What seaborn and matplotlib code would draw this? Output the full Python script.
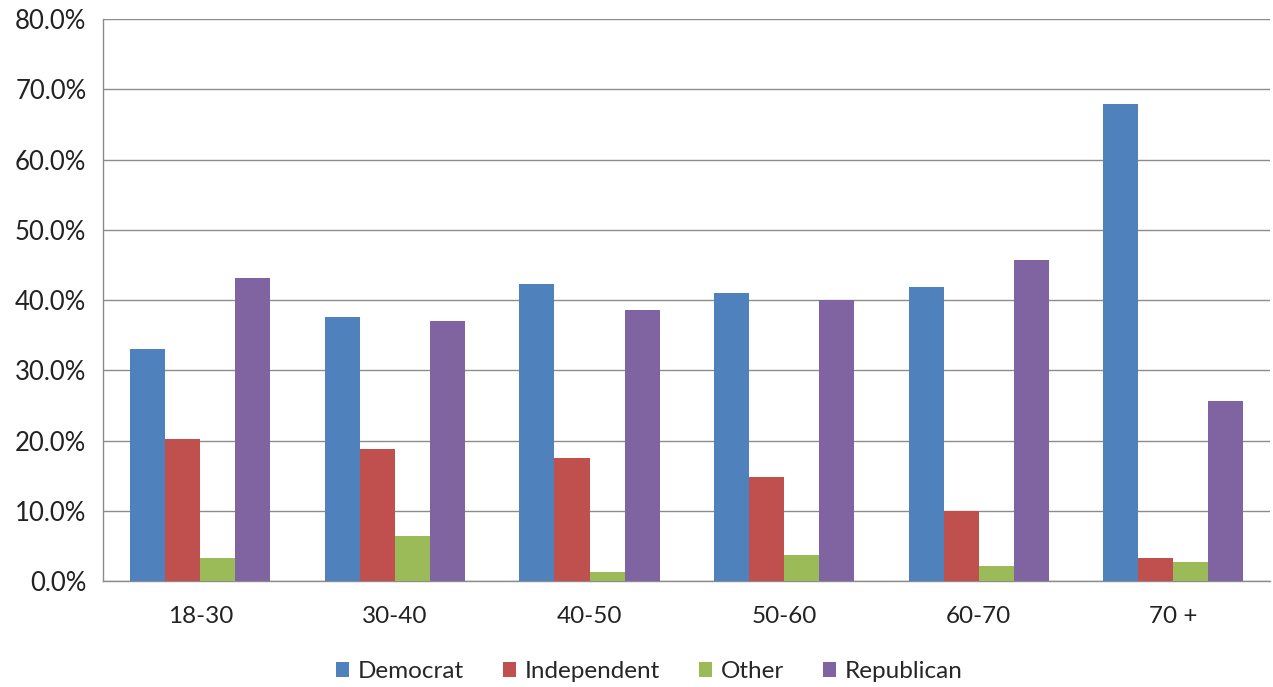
import matplotlib
matplotlib.use("Agg")
import matplotlib.pyplot as plt
from matplotlib.ticker import PercentFormatter, FixedLocator
import seaborn as sns
import pandas as pd

age_groups = ["18-30", "30-40", "40-50", "50-60", "60-70", "70 +"]
parties = ["Democrat", "Independent", "Other", "Republican"]
democrat = [33.0, 37.6, 42.3, 41.0, 41.9, 68.0]
independent = [20.2, 18.8, 17.5, 14.9, 10.0, 3.3]
other = [3.3, 6.4, 1.3, 3.8, 2.1, 2.7]
republican = [43.1, 37.0, 38.6, 40.0, 45.7, 25.6]
colors = ["#4F81BD", "#C0504D", "#9BBB59", "#8064A2"]

rows = []
for party, vals in zip(parties, [democrat, independent, other, republican]):
    for age, v in zip(age_groups, vals):
        rows.append({"age": age, "party": party, "share": v})
df = pd.DataFrame(rows)

sns.set_style("white")
plt.rcParams["font.family"] = ["Lato", "DejaVu Sans"]

fig = plt.figure(figsize=(12.73, 6.87), dpi=100)
ax = fig.add_axes([0.081, 0.154, 0.917, 0.818])

sns.barplot(data=df, x="age", y="share", hue="party", order=age_groups,
            hue_order=parties, palette=colors, width=0.72, gap=0,
            saturation=1, ax=ax, zorder=3, edgecolor="none")

ax.set_ylim(0, 80)
ax.set_xlim(-0.5, 5.5)
ax.set_yticks(range(0, 81, 10))
ax.yaxis.set_major_formatter(PercentFormatter(decimals=1))
ax.grid(axis="y", color="#8c8c8c", linewidth=1, zorder=0)
ax.set_axisbelow(True)
ax.set_xlabel("")
ax.set_ylabel("")

# excel style: ticks at category boundaries
ax.xaxis.set_minor_locator(FixedLocator([i - 0.5 for i in range(7)]))
ax.tick_params(axis="x", which="major", length=0, pad=18, labelsize=17.5, labelcolor="#222222")
ax.tick_params(axis="x", which="minor", length=8, width=1, color="#8c8c8c", direction="out")
ax.tick_params(axis="y", length=7, width=1, color="#8c8c8c", direction="out",
               labelsize=18.5, pad=5, labelcolor="#222222")

for side in ["top", "right"]:
    ax.spines[side].set_visible(False)
for side in ["left", "bottom"]:
    ax.spines[side].set_color("#8c8c8c")
    ax.spines[side].set_linewidth(1)

handles, labels = ax.get_legend_handles_labels()
ax.legend_.remove()
fig.legend(handles, labels, loc="center", bbox_to_anchor=(0.51, 0.022), ncol=4,
           frameon=False, fontsize=17.5, handlelength=0.55, handleheight=0.55,
           handletextpad=0.35, columnspacing=1.6)

fig.savefig("out.png", dpi=100)
